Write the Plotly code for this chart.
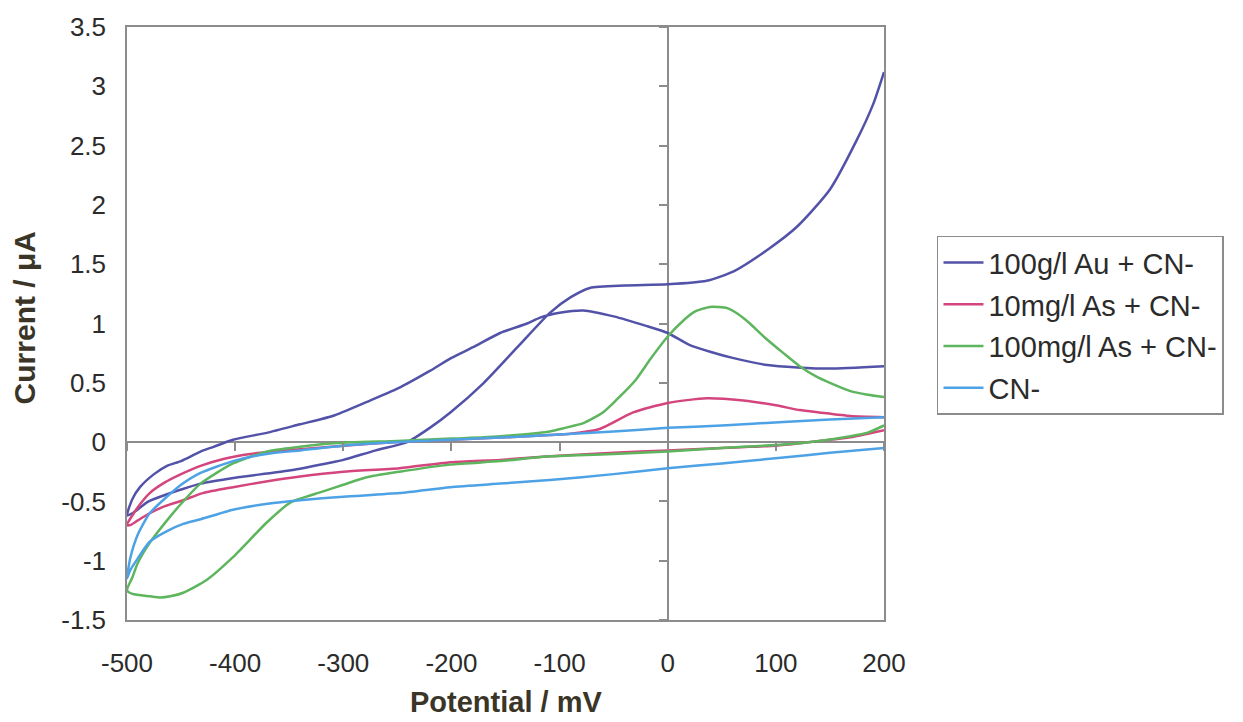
import plotly.graph_objects as go

# ---------------- data ----------------
au_x = [200, 150, 120, 92, 60, 40, 20, 0, -20, -50, -78, -100, -118, -130, -155, -180, -200, -220,
        -250, -278, -310, -340, -370, -402, -420, -432, -450, -463, -475, -488, -495, -500,
        -495, -480, -463, -450, -432, -400, -350, -310, -300, -270, -241, -220, -201, -170, -139,
        -109, -90, -72, -40, 0, 36, 61, 92, 120, 150, 175, 190, 200]
au_y = [0.64, 0.62, 0.63, 0.65, 0.71, 0.76, 0.82, 0.92, 0.98, 1.06, 1.11, 1.09, 1.05, 1.0, 0.92, 0.80,
        0.71, 0.60, 0.45, 0.34, 0.22, 0.15, 0.08, 0.02, -0.04, -0.08, -0.16, -0.2, -0.27, -0.38, -0.48, -0.62,
        -0.6, -0.5, -0.44, -0.4, -0.35, -0.3, -0.24, -0.17, -0.15, -0.07, 0.0, 0.12, 0.25, 0.5, 0.8,
        1.09, 1.22, 1.3, 1.32, 1.33, 1.36, 1.44, 1.62, 1.82, 2.13, 2.55, 2.85, 3.12]

as10_x = [200, 169, 140, 122, 100, 70, 36, 0, -32, -63, -90, -109, -150, -200, -250, -300, -340,
          -386, -410, -432, -450, -465, -479, -490, -500,
          -497, -490, -479, -465, -448, -430, -402, -370, -340, -300, -248, -201, -155, -109,
          -50, 0, 50, 76, 100, 122, 150, 169, 185, 200]
as10_y = [0.21, 0.22, 0.25, 0.27, 0.31, 0.35, 0.37, 0.33, 0.25, 0.11, 0.07, 0.06, 0.04, 0.02, 0.0,
          -0.03, -0.06, -0.1, -0.14, -0.2, -0.27, -0.34, -0.43, -0.55, -0.7,
          -0.7, -0.66, -0.6, -0.54, -0.49, -0.43, -0.38, -0.33, -0.29, -0.25, -0.22, -0.17, -0.15,
          -0.12, -0.09, -0.07, -0.05, -0.04, -0.03, -0.01, 0.02, 0.04, 0.07, 0.1]

as100_x = [200, 185, 169, 150, 138, 122, 107, 90, 76, 65, 55, 39, 25, 15, 0, -16, -30, -47, -60,
           -78, -95, -109, -140, -170, -200, -250, -309, -340, -371, -402, -432, -450, -463,
           -479, -490, -495, -500,
           -495, -479, -469, -460, -448, -426, -402, -371, -349, -320, -300, -280, -248, -201,
           -155, -109, -50, 0, 50, 107, 140, 169, 185, 200]
as100_y = [0.38, 0.40, 0.43, 0.50, 0.55, 0.64, 0.75, 0.88, 1.0, 1.08, 1.13, 1.14, 1.10, 1.03, 0.89,
           0.70, 0.52, 0.36, 0.25, 0.16, 0.12, 0.09, 0.06, 0.04, 0.03, 0.01, -0.01, -0.04, -0.08,
           -0.18, -0.35, -0.52, -0.66, -0.85, -1.02, -1.14, -1.25,
           -1.28, -1.3, -1.31, -1.3, -1.27, -1.16, -0.97, -0.68, -0.51, -0.42, -0.36, -0.3, -0.25,
           -0.19, -0.16, -0.12, -0.1, -0.08, -0.05, -0.02, 0.01, 0.05, 0.08, 0.14]

cn_x = [200, 150, 107, 50, 0, -50, -109, -150, -201, -248, -300, -340, -371, -402, -432, -450,
        -463, -479, -490, -497, -500,
        -497, -490, -479, -463, -448, -432, -402, -370, -340, -300, -248, -201, -155, -109,
        -50, 0, 50, 107, 150, 200]
cn_y = [0.21, 0.19, 0.17, 0.14, 0.12, 0.09, 0.06, 0.04, 0.02, 0.0, -0.03, -0.07, -0.1, -0.16,
        -0.26, -0.36, -0.46, -0.6, -0.78, -0.98, -1.15,
        -1.08, -0.98, -0.84, -0.75, -0.69, -0.65, -0.57, -0.52, -0.49, -0.46, -0.43, -0.38,
        -0.35, -0.32, -0.27, -0.22, -0.18, -0.13, -0.09, -0.05]

series_names = ["100g/l Au + CN-", "10mg/l As + CN-", "100mg/l As + CN-", "CN-"]
series_colors = ["#5252A8", "#D4457E", "#5DB55D", "#4DA2E6"]

x_tickvals = [-500, -400, -300, -200, -100, 0, 100, 200]
x_ticktext = ["-500", "-400", "-300", "-200", "-100", "0", "100", "200"]
y_tickvals = [-1.5, -1, -0.5, 0, 0.5, 1, 1.5, 2, 2.5, 3, 3.5]
y_ticktext = ["-1.5", "-1", "-0.5", "0", "0.5", "1", "1.5", "2", "2.5", "3", "3.5"]

x_range = [-500, 200]
y_range = [-1.5, 3.5]

# ---------------- figure ----------------
FONT = "Liberation Sans, Arial, sans-serif"
fig = go.Figure()

all_x = [au_x, as10_x, as100_x, cn_x]
all_y = [au_y, as10_y, as100_y, cn_y]
for i, (xs, ys) in enumerate(zip(all_x, all_y)):
    fig.add_trace(go.Scatter(
        x=xs, y=ys, mode="lines", name=series_names[i],
        line=dict(color=series_colors[i], width=2.5, shape="spline", smoothing=0.6),
        legendgroup=f"g{i}",
    ))

# helper invisible trace for the zero-crossing tick axes
fig.add_trace(go.Scatter(x=[None], y=[None], xaxis="x2", yaxis="y2",
                         showlegend=False, hoverinfo="skip"))

x0_pos = (0 - y_range[0]) / (y_range[1] - y_range[0])
y0_pos = (0 - x_range[0]) / (x_range[1] - x_range[0])

fig.update_layout(
    width=1243, height=722,
    margin=dict(l=127, r=359, t=27, b=102),
    paper_bgcolor="white", plot_bgcolor="white",
    font=dict(family=FONT, size=26, color="#2b2b2b"),
    showlegend=True,
    xaxis=dict(
        range=x_range, tickvals=x_tickvals, ticktext=x_ticktext,
        showline=True, mirror=True, linecolor="#8c8c8c", linewidth=1.5,
        ticks="", showgrid=False,
        zeroline=True, zerolinecolor="#8c8c8c", zerolinewidth=1.5,
        ticklabelstandoff=19, tickfont=dict(size=26, color="#2b2b2b"),
    ),
    yaxis=dict(
        range=y_range, tickvals=y_tickvals, ticktext=y_ticktext,
        showline=True, mirror=True, linecolor="#8c8c8c", linewidth=1.5,
        ticks="", showgrid=False,
        zeroline=True, zerolinecolor="#8c8c8c", zerolinewidth=1.5,
        ticklabelstandoff=14, tickfont=dict(size=26, color="#2b2b2b"),
    ),
    xaxis2=dict(
        overlaying="x", anchor="free", position=x0_pos, range=x_range,
        tickvals=x_tickvals, ticks="outside", ticklen=8, tickwidth=1.5, tickcolor="#8c8c8c",
        showticklabels=False, showgrid=False, zeroline=False, showline=False,
    ),
    yaxis2=dict(
        overlaying="y", anchor="free", position=y0_pos, range=y_range,
        tickvals=y_tickvals, ticks="outside", ticklen=9, tickwidth=1.5, tickcolor="#8c8c8c",
        showticklabels=False, showgrid=False, zeroline=False, showline=False,
    ),
    legend=dict(
        x=1.07, y=0.648, xanchor="left", yanchor="top",
        bordercolor="#8c8c8c", borderwidth=1.5, bgcolor="white",
        font=dict(family=FONT, size=29, color="#2b2b2b"),
        traceorder="grouped", tracegroupgap=1,
        itemwidth=40,
    ),
    annotations=[
        dict(text="<b>Potential / mV</b>", xref="paper", yref="paper",
             x=0.5, y=-0.138, xanchor="center", yanchor="middle", showarrow=False,
             font=dict(family=FONT, size=29, color="#3a3526")),
        dict(text="<b>Current / μA</b>", xref="paper", yref="paper",
             x=-0.135, y=0.51, xanchor="center", yanchor="middle", showarrow=False,
             textangle=-90, font=dict(family=FONT, size=30, color="#3a3526")),
    ],
)

fig.write_html("out.html")
